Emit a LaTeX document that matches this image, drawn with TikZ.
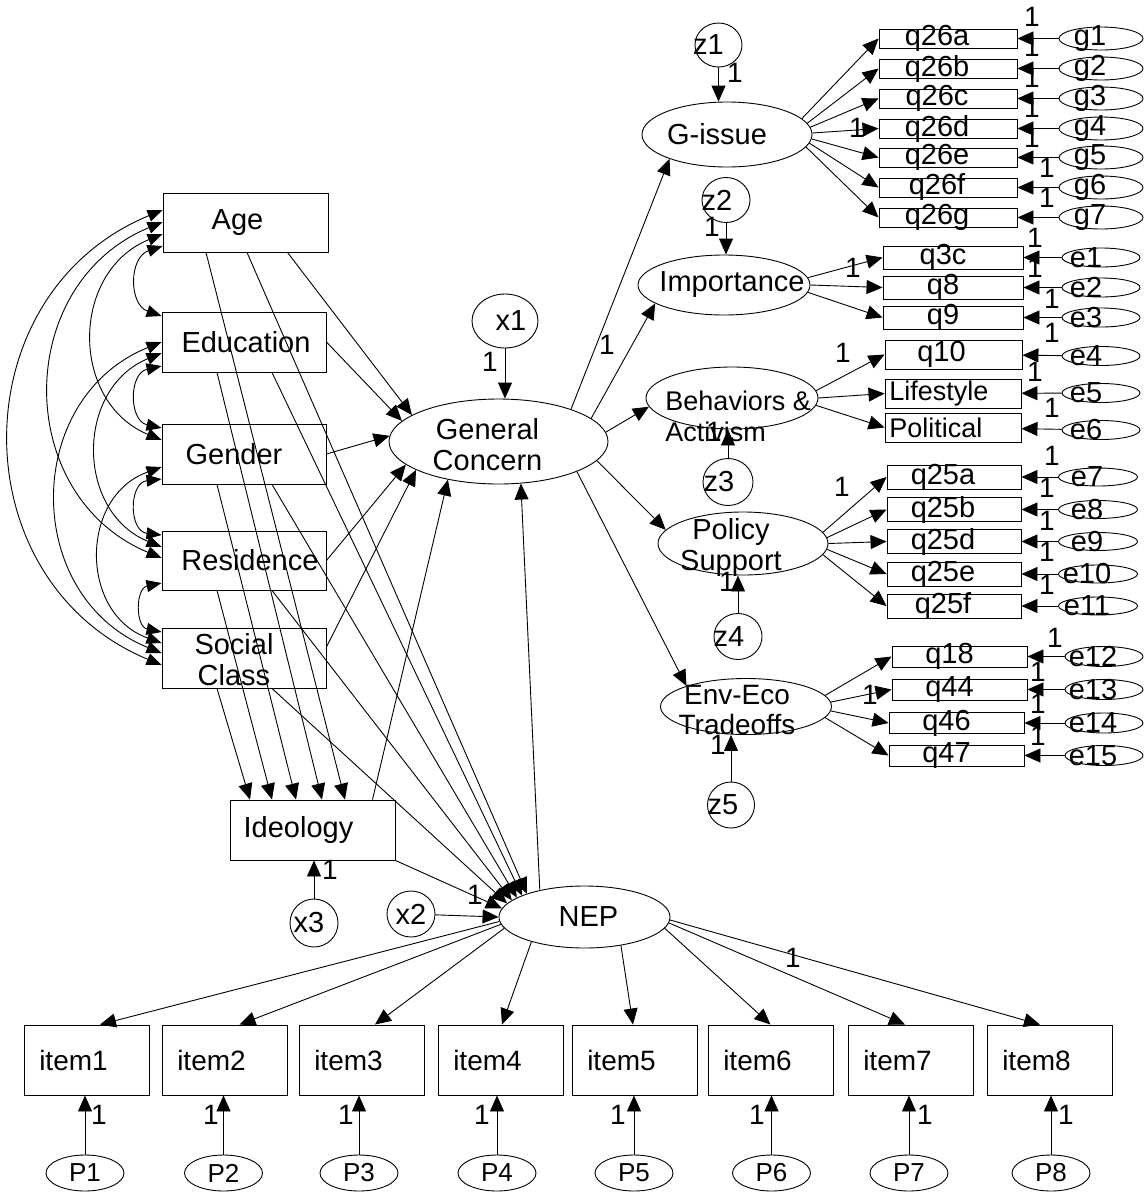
\documentclass[tikz,border=0pt]{standalone}
\usepackage{fontspec}
\setmainfont{Liberation Sans}
\usetikzlibrary{shapes.geometric,arrows.meta}
\newcommand\lab{\fontsize{29}{31}\selectfont}
\newcommand\labm{\fontsize{27}{31}\selectfont}
\newcommand\labi{\fontsize{28}{30}\selectfont}
\newcommand\labp{\fontsize{26}{28}\selectfont}
% two-headed arc on the left side of the exogenous boxes
\newcommand\covarc[5]{%
  \pgfmathsetmacro\covC{(#4-#2)/2}%
  \pgfmathsetmacro\covH{4*#5/3}%
  \pgfmathsetmacro\covV{\covH/tan(2*atan(#5/\covC))}%
  \draw[cov] (#1.west |- 0,#2) .. controls (162-\covH,#2+\covV) and (162-\covH,#4-\covV) .. (#3.west |- 0,#4);}
\tikzset{
  obs/.style={draw,rectangle,inner sep=0pt},
  lat/.style={draw,ellipse,inner sep=0pt},
  sz/.style 2 args={minimum width=#1,minimum height=#2},
  txt/.style 2 args={label={[font=\lab,xshift=#1]center:#2}},
  one/.style={font=\labi,inner sep=0pt},
  arr/.style={-{Triangle[length=16pt,width=14pt]}},
  cov/.style={{Triangle[length=15pt,width=12pt]}-{Triangle[length=15pt,width=12pt]}},
}

\begin{document}
\begin{tikzpicture}[x=1pt,y=-1pt,line width=0.9pt]
\useasboundingbox (0,0) rectangle (1146,1192);

%Shape: exogenous boxes
\node[obs,sz={165}{59},txt={-8pt}{Age}] (Age) at (245.5,222.5) {};
\node[obs,sz={164}{60},txt={2pt}{Education}] (Edu) at (244,342) {};
\node[obs,sz={164}{60},txt={-10pt}{Gender}] (Gen) at (244,454) {};
\node[obs,sz={164}{59},txt={6pt}{Residence}] (Res) at (244,560.5) {};
\node[obs,sz={164}{60},label={[font=\lab,align=center,xshift=-10pt,yshift=-2pt]center:Social\\Class}] (Soc) at (244,658) {};
\node[obs,sz={165}{60},txt={-14pt}{Ideology}] (Ideo) at (312.5,830) {};
\node[lat,sz={48}{48},txt={-5pt}{x3}] (x3) at (314,923) {};

%Shape: central latents
\node[lat,sz={219}{85},label={[font=\lab,align=center,xshift=-11pt,yshift=-3pt]center:General\\Concern}] (GC) at (498.5,441.5) {};
\node[lat,sz={66}{54},txt={6pt}{x1}] (x1) at (505,321) {};
\node[lat,sz={171}{62},txt={4pt}{NEP}] (NEP) at (584.5,917) {};
\node[lat,sz={48}{46},txt={0pt}{x2}] (x2) at (411,914) {};

%Shape: first order factors
\node[lat,sz={170}{65},txt={-10pt}{G-issue}] (Gi) at (727,134.5) {};
\node[lat,sz={47}{44},txt={-10pt}{z1}] (z1) at (718.5,45) {};
\node[lat,sz={172}{60},txt={8pt}{Importance}] (Imp) at (724,285) {};
\node[lat,sz={48}{45},txt={-9pt}{z2}] (z2) at (726,200) {};
\node[lat,sz={172}{62}] (Beh) at (732,398) {};
\node[font=\labm,inner sep=0pt,align=left,anchor=west] (tBeh) at (665,416) {Behaviors \&\\Activism};
\node[lat,sz={50}{47},txt={-9pt}{z3}] (z3) at (728,482) {};
\node[lat,sz={170}{63}] (Pol) at (743,543.5) {};
\node[font=\lab,inner sep=0pt,align=center] (tPol) at (731,547) {Policy\\Support};
\node[lat,sz={48}{46},txt={-9pt}{z4}] (z4) at (738,636.5) {};
\node[lat,sz={171}{56}] (Env) at (746,706.5) {};
\node[font=\labi,inner sep=0pt,align=center] (tEnv) at (737,710) {Env-Eco\\Tradeoffs};
\node[lat,sz={47}{46},txt={-8pt}{z5}] (z5) at (731,805) {};

%Shape: indicators of G-issue
\foreach \n/\y/\a [count=\i] in {a/38.5/12,b/68.5/8,c/98.5/5,d/128.5/1,e/157.5/357,f/187.5/354,g/217.5/351}{
  \node[obs,sz={138}{19},txt={-11pt}{q26\n}] (q26\n) at (948,\y) {};
  \node[lat,sz={84}{23},txt={-11pt}{g\i}] (g\i) at (1101,\y) {};
  \draw[arr] (g\i) -- (q26\n);
  \draw[arr] (Gi.\a) -- (q26\n.west);
}

%Shape: indicators of Importance
\foreach \n/\y/\a [count=\i] in {q3c/257.5/5,q8/287.5/0,q9/317.5/355}{
  \node[obs,sz={140}{23},txt={-10pt}{\n}] (\n) at (953,\y) {};
  \node[lat,sz={78}{19},txt={-15pt}{e\i}] (e\i) at (1101,\y) {};
  \draw[arr] (e\i) -- (\n);
  \draw[arr] (Imp.\a) -- (\n.west);
}

%Shape: indicators of Behaviors & Activism
\node[obs,sz={137}{29},txt={-12pt}{q10}] (q10) at (953.5,354.5) {};
\node[obs,sz={136}{29}] (Life) at (953,393.5) {};
\node[font=\labm,inner sep=0pt,anchor=west] (tLife) at (889,394) {Lifestyle};
\node[obs,sz={136}{29}] (Poli) at (953,427.5) {};
\node[font=\labm,inner sep=0pt,anchor=west] (tPoli) at (889,428) {Political};
\foreach \n/\y/\a [count=\i from 4] in {q10/356/5,Life/393/0,Poli/430/355}{
  \node[lat,sz={78}{19},txt={-15pt}{e\i}] (e\i) at (1101,\y) {};
  \draw[arr] (e\i) -- (\n);
  \draw[arr] (Beh.\a) -- (\n.west);
}

%Shape: indicators of Policy Support
\foreach \n/\y/\a [count=\i from 7] in {q25a/477/8,q25b/509.5/4,q25d/541.5/0,q25e/574/356,q25f/606/352}{
  \node[obs,sz={134}{24},txt={-11pt}{\n}] (\n) at (954,\y) {};
  \node[lat,sz={79}{18},txt={-11pt}{e\i}] (e\i) at (1098,\y) {};
  \draw[arr] (e\i) -- (\n);
  \draw[arr] (Pol.\a) -- (\n.west);
}

%Shape: indicators of Env-Eco Tradeoffs
\foreach \n/\y/\x/\a [count=\i from 12] in {q18/656.5/959.5/8,q44/689.5/959.5/3,q46/723/956.5/357,q47/755.5/956.5/352}{
  \node[obs,sz={135}{21},txt={-10pt}{\n}] (\n) at (\x,\y) {};
  \node[lat,sz={78}{20},txt={-11pt}{e\i}] (e\i) at (1104,\y) {};
  \draw[arr] (e\i) -- (\n);
  \draw[arr] (Env.\a) -- (\n.west);
}

%Shape: NEP items
\foreach \i/\x/\a/\s/\p in {1/86.5/183/13.5/85,2/224.5/185/15/223.5,3/361.5/188/13.5/359,4/500.5/205/1.5/497,5/634.5/322/-1.5/634,6/770.5/352/0/771.5,7/910.5/356/-5.5/909,8/1049.5/358/-9.5/1051}{
  \node[obs,sz={125}{70},label={[font=\labi,xshift=-13pt]center:item\i}] (item\i) at (\x,1060) {};
  \node[lat,sz={78}{36},label={[font=\labp]center:P\i}] (P\i) at (\p,1173) {};
  \draw[arr] (NEP.\a) -- ([xshift=\s pt]item\i.north);
  \draw[arr] (P\i) -- (P\i |- item\i.south);
}

%Curve Lines: covariances of the exogenous variables
\covarc{Age}{246}{Edu}{316}{25}
\covarc{Edu}{366}{Gen}{428}{25}
\covarc{Gen}{479}{Res}{535}{25}
\covarc{Res}{583}{Soc}{632}{20}
\covarc{Age}{234}{Gen}{440}{69}
\covarc{Edu}{353}{Res}{547}{65}
\covarc{Gen}{467}{Soc}{643}{62}
\covarc{Age}{222}{Res}{558}{112}
\covarc{Edu}{342}{Soc}{653}{105}
\covarc{Age}{210}{Soc}{665}{152}

%Lines: exogenous to Ideology
\draw[arr] ([xshift=-39.5pt]Age.south) -- ([xshift=32.5pt]Ideo.north);
\draw[arr] ([xshift=-27pt]Edu.south) -- ([xshift=9.5pt]Ideo.north);
\draw[arr] ([xshift=-27pt]Gen.south) -- ([xshift=-16.5pt]Ideo.north);
\draw[arr] ([xshift=-27pt]Res.south) -- ([xshift=-40.5pt]Ideo.north);
\draw[arr] ([xshift=-27pt]Soc.south) -- ([xshift=-62.5pt]Ideo.north);

%Lines: exogenous to NEP
\draw[arr] ([xshift=1.5pt]Age.south) -- (NEP.158);
\draw[arr] ([xshift=28pt]Edu.south) -- (NEP.161);
\draw[arr] ([xshift=28pt]Gen.south) -- (NEP.164);
\draw[arr] ([xshift=28pt]Res.south) -- (NEP.167);
\draw[arr] ([xshift=28pt]Soc.south) -- (NEP.170);
\draw[arr] (Ideo.south east) -- (NEP.174);
\draw[arr] (x2) -- (NEP.west);

%Lines: into General Concern
\draw[arr] ([xshift=42pt]Age.south) -- (GC.163);
\draw[arr] (Edu.east) -- (GC.168);
\draw[arr] (Gen.east) -- (GC.177);
\draw[arr] (Res.east) -- (GC.194);
\draw[arr] ([yshift=11pt]Soc.east) -- (GC.199);
\draw[arr] ([xshift=60pt]Ideo.north) -- (GC.217);
\draw[arr] (NEP.149) -- (GC.298);
\draw[arr] (x1) -- (x1 |- GC.north);

%Lines: General Concern to first order factors
\draw[arr] (GC.24) -- (Gi.203);
\draw[arr] (GC.14) -- (Imp.195);
\draw[arr] (GC.5) -- (Beh.186);
\draw[arr] (GC.349) -- (Pol.170);
\draw[arr] (GC.339) -- (Env.161);

%Lines: disturbances
\draw[arr] (z1) -- (z1 |- Gi.north);
\draw[arr] (z2) -- (z2 |- Imp.north);
\draw[arr] (z3) -- (z3 |- Beh.south);
\draw[arr] (z4) -- (z4 |- Pol.south);
\draw[arr] (z5) -- (z5 |- Env.south);
\draw[arr] (x3) -- (x3 |- Ideo.south);

% Text Node: fixed weights
\foreach \x/\y [count=\k] in {490/362,607/345,735/73,857/128,
  1032/17,1032/47,1032/78,1032/108,1032/138,1047/168,1047/198,1035/238,
  712/227,853/268,1035/268,1052/299,1052/333,1035/372,1052/408,1052/456,
  1047/488,1047/521,1047/552,1047/585,843/353,714/432,842/487,727/582,
  1055/638,1038/672,1038/704,1038/736,870/695,718/745,330/870,475/895,793/958,
  99/1115,211/1115,346/1115,482/1115,618/1115,757/1115,925/1115,1066/1115}
  \node[one] (w\k) at (\x,\y) {1};

\end{tikzpicture}
\end{document}
